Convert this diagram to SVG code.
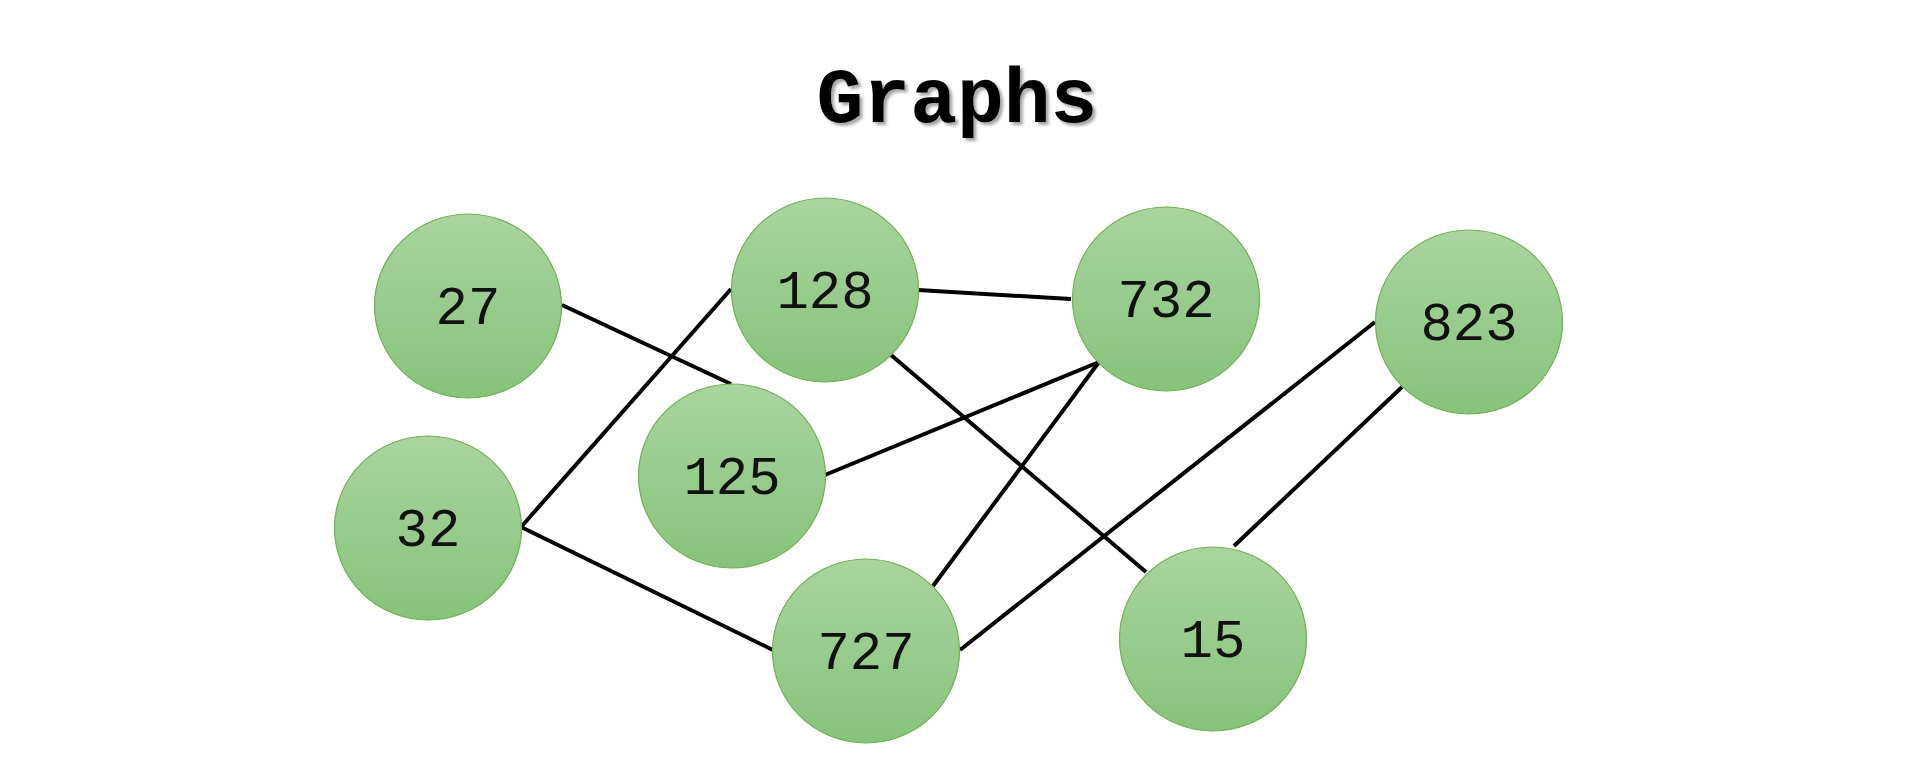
<svg xmlns="http://www.w3.org/2000/svg" width="1920" height="768" viewBox="0 0 1920 768">
<defs>
<linearGradient id="g" x1="0" y1="0" x2="0" y2="1">
<stop offset="0" stop-color="#A9D49F"/>
<stop offset="1" stop-color="#86C37A"/>
</linearGradient>
<filter id="sh" x="-10%" y="-10%" width="130%" height="140%">
<feGaussianBlur in="SourceAlpha" stdDeviation="1.5"/>
<feOffset dx="3" dy="3" result="b"/>
<feComponentTransfer><feFuncA type="linear" slope="0.35"/></feComponentTransfer>
<feMerge><feMergeNode/><feMergeNode in="SourceGraphic"/></feMerge>
</filter>
</defs>
<style>
.n ellipse{fill:url(#g);stroke:#6FB04F;stroke-width:1.2}
.n text{font-family:"Liberation Mono","DejaVu Sans Mono",monospace;font-size:54px;fill:#111;text-anchor:middle}
.e line{stroke:#000;stroke-width:4;stroke-linecap:butt}
.t{font-family:"Liberation Mono","DejaVu Sans Mono",monospace;font-weight:bold;font-size:78px;fill:#000;text-anchor:middle}
</style>
<rect width="1920" height="768" fill="#fff"/>
<text class="t" x="957" y="122" filter="url(#sh)">Graphs</text>
<g id="connectors" class="e">
<line x1="562" y1="305" x2="731" y2="384"/>
<line x1="521" y1="527" x2="731" y2="289"/>
<line x1="521" y1="527" x2="773" y2="650"/>
<line x1="918" y1="290" x2="1071" y2="299"/>
<line x1="891" y1="355" x2="1146" y2="572"/>
<line x1="825" y1="475" x2="1099" y2="362"/>
<line x1="933" y1="586" x2="1099" y2="362"/>
<line x1="960" y1="650" x2="1375" y2="322"/>
<line x1="1402" y1="387" x2="1234" y2="546"/>
</g>
<g id="node-27" class="n"><ellipse cx="468" cy="306" rx="93.5" ry="92"/><text x="468" y="324">27</text></g>
<g id="node-32" class="n"><ellipse cx="428" cy="528" rx="93.5" ry="92"/><text x="428" y="546">32</text></g>
<g id="node-128" class="n"><ellipse cx="825" cy="290" rx="93.5" ry="92"/><text x="825" y="308">128</text></g>
<g id="node-125" class="n"><ellipse cx="732" cy="476" rx="93.5" ry="92"/><text x="732" y="494">125</text></g>
<g id="node-727" class="n"><ellipse cx="866" cy="651" rx="93.5" ry="92"/><text x="866" y="669">727</text></g>
<g id="node-732" class="n"><ellipse cx="1166" cy="299" rx="93.5" ry="92"/><text x="1166" y="317">732</text></g>
<g id="node-15" class="n"><ellipse cx="1213" cy="639" rx="93.5" ry="92"/><text x="1213" y="657">15</text></g>
<g id="node-823" class="n"><ellipse cx="1469" cy="322" rx="93.5" ry="92"/><text x="1469" y="340">823</text></g>
</svg>
